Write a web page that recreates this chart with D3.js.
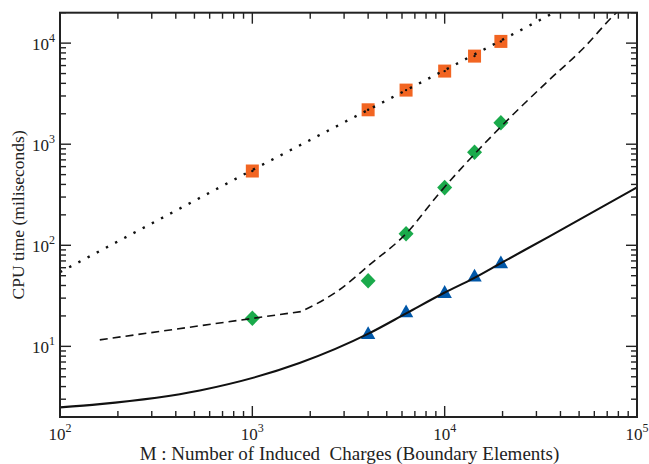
<!DOCTYPE html>
<html><head><meta charset="utf-8">
<script src="https://cdn.jsdelivr.net/npm/d3@7"></script>
<style>body{margin:0;background:#fff}svg{display:block}text{font-family:"Liberation Serif","Times New Roman",serif;fill:#222}</style>
</head><body>
<svg id="c" width="649" height="464"></svg>
<script>
// ---- data ----
const squareM = [1000, 4000, 6300, 10000, 14300, 19600];
const squareT = [543, 2190, 3430, 5290, 7440, 10400];
const diamondM = [1000, 4000, 6300, 10000, 14300, 19600];
const diamondT = [19.0, 44.5, 130, 372, 832, 1630];
const triangleM = [4000, 6300, 10000, 14300, 19600];
const triangleT = [13.5, 22.1, 34.4, 49.9, 67.5];
const dottedM = [100, 1000, 10000, 34900, 45000];
const dottedT = [54.2, 556, 5400, 18900, 24000];
const dashedLowM = [161, 1796];
const dashedLowT = [11.6, 22.1];
const dashedHighM = [1796, 2838, 4064, 6340, 9370, 19600, 34900, 52000, 77400, 90000];
const dashedHighT = [22.1, 36.3, 64, 132, 327, 1489, 4310, 8700, 19650, 25500];
const solidM = [100, 161, 533, 1759, 4064, 6340, 9900, 14200, 19600, 34900, 100000];
const solidT = [2.49, 2.68, 3.66, 6.83, 13.5, 21.3, 33.7, 47.3, 66.5, 122, 374];
const xMajor = [100, 1000, 10000, 100000];
const xExp = ["2", "3", "4", "5"];
const yMajor = [10, 100, 1000, 10000];
const yExp = ["1", "2", "3", "4"];
const xTitle = "M : Number of Induced\u00a0 Charges (Boundary Elements)";
const yTitle = "CPU time (miliseconds)";

// ---- layout ----
const L = 60, R = 637, T = 12.7, B = 417;
const svg = d3.select("#c");
const x = d3.scaleLog().domain([100, 100000]).range([L, R]);
const y = d3.scaleLog().domain([2, 20000]).range([B, T]);

const defs = svg.append("defs");
defs.append("clipPath").attr("id","clip").append("rect")
  .attr("x", L).attr("y", T).attr("width", R - L).attr("height", B - T);

const plot = svg.append("g").attr("clip-path","url(#clip)");
const zip = (a, b) => a.map((v, i) => [v, b[i]]);

// markers
plot.selectAll("rect.sq").data(zip(squareM, squareT)).join("rect")
  .attr("x", d => x(d[0]) - 6.5).attr("y", d => y(d[1]) - 6.5)
  .attr("width", 13).attr("height", 13).attr("fill", "#f26522");
plot.selectAll("path.dm").data(zip(diamondM, diamondT)).join("path")
  .attr("d", d => { const cx = x(d[0]), cy = y(d[1]); return `M${cx},${cy-7.8}L${cx+7.5},${cy}L${cx},${cy+7.8}L${cx-7.5},${cy}Z`; })
  .attr("fill", "#1aaa4b");
plot.selectAll("path.tr").data(zip(triangleM, triangleT)).join("path")
  .attr("d", d => { const cx = x(d[0]), cy = y(d[1]); return `M${cx},${cy-7}L${cx+7.2},${cy+5.8}L${cx-7.2},${cy+5.8}Z`; })
  .attr("fill", "#0057a8");

// lines
const lineLin = d3.line().x(d => x(d[0])).y(d => y(d[1])).curve(d3.curveLinear);
const lineMono = d3.line().x(d => x(d[0])).y(d => y(d[1])).curve(d3.curveMonotoneX);
plot.append("path").datum(zip(solidM, solidT))
  .attr("d", lineMono).attr("fill","none").attr("stroke","#111").attr("stroke-width", 2.1);
const dashD = lineLin(zip(dashedLowM, dashedLowT)) + lineMono(zip(dashedHighM, dashedHighT)).replace(/^M/, "L");
plot.append("path").attr("d", dashD).attr("fill","none").attr("stroke","#111").attr("stroke-width", 1.6)
  .attr("stroke-dasharray", "8,5");
plot.append("path").datum(zip(dottedM, dottedT))
  .attr("d", lineLin).attr("fill","none").attr("stroke","#111").attr("stroke-width", 2.4)
  .attr("stroke-dasharray", "2.4,8");
plot.selectAll("circle.cd").data(zip(squareM, squareT)).join("circle")
  .attr("cx", d => x(d[0])).attr("cy", d => y(d[1])).attr("r", 1.2).attr("fill", "#111");

// ticks
const tk = svg.append("g").attr("stroke", "#222").attr("stroke-width", 1.4);
const xMinor = [];
for (let e = 2; e < 5; e++) for (let k = 2; k <= 9; k++) xMinor.push(k * Math.pow(10, e));
const yMinor = [];
for (let e = 0; e < 5; e++) for (let k = 2; k <= 9; k++) { const v = k * Math.pow(10, e); if (v >= 2 && v <= 20000 && !yMajor.includes(v)) yMinor.push(v); }
xMajor.forEach(v => { const p = x(v);
  tk.append("line").attr("x1", p).attr("x2", p).attr("y1", B).attr("y2", B - 11);
  tk.append("line").attr("x1", p).attr("x2", p).attr("y1", T).attr("y2", T + 11); });
xMinor.forEach(v => { const p = x(v);
  tk.append("line").attr("x1", p).attr("x2", p).attr("y1", B).attr("y2", B - 6);
  tk.append("line").attr("x1", p).attr("x2", p).attr("y1", T).attr("y2", T + 6); });
yMajor.forEach(v => { const p = y(v);
  tk.append("line").attr("y1", p).attr("y2", p).attr("x1", L).attr("x2", L + 11);
  tk.append("line").attr("y1", p).attr("y2", p).attr("x1", R).attr("x2", R - 11); });
yMinor.forEach(v => { const p = y(v);
  tk.append("line").attr("y1", p).attr("y2", p).attr("x1", L).attr("x2", L + 6);
  tk.append("line").attr("y1", p).attr("y2", p).attr("x1", R).attr("x2", R - 6); });

// frame
svg.append("rect").attr("x", L).attr("y", T).attr("width", R - L).attr("height", B - T)
  .attr("fill", "none").attr("stroke", "#222").attr("stroke-width", 2);

// tick labels
xMajor.forEach((v, i) => {
  const t = svg.append("text").attr("x", x(v)).attr("y", 440).attr("text-anchor", "middle").attr("font-size", 17);
  t.append("tspan").text("10");
  t.append("tspan").attr("dy", -8).attr("font-size", 12).text(xExp[i]);
});
yMajor.forEach((v, i) => {
  const t = svg.append("text").attr("x", 55).attr("y", y(v) + 7).attr("text-anchor", "end").attr("font-size", 17);
  t.append("tspan").text("10");
  t.append("tspan").attr("dy", -8).attr("font-size", 12).text(yExp[i]);
});

// titles
svg.append("text").attr("x", (L + R) / 2 + 1).attr("y", 460).attr("text-anchor", "middle")
  .attr("font-size", 19).text(xTitle);
svg.append("text").attr("transform", `translate(24,${(T + B) / 2}) rotate(-90)`).attr("text-anchor", "middle")
  .attr("font-size", 17.5).text(yTitle);
</script>
</body></html>
